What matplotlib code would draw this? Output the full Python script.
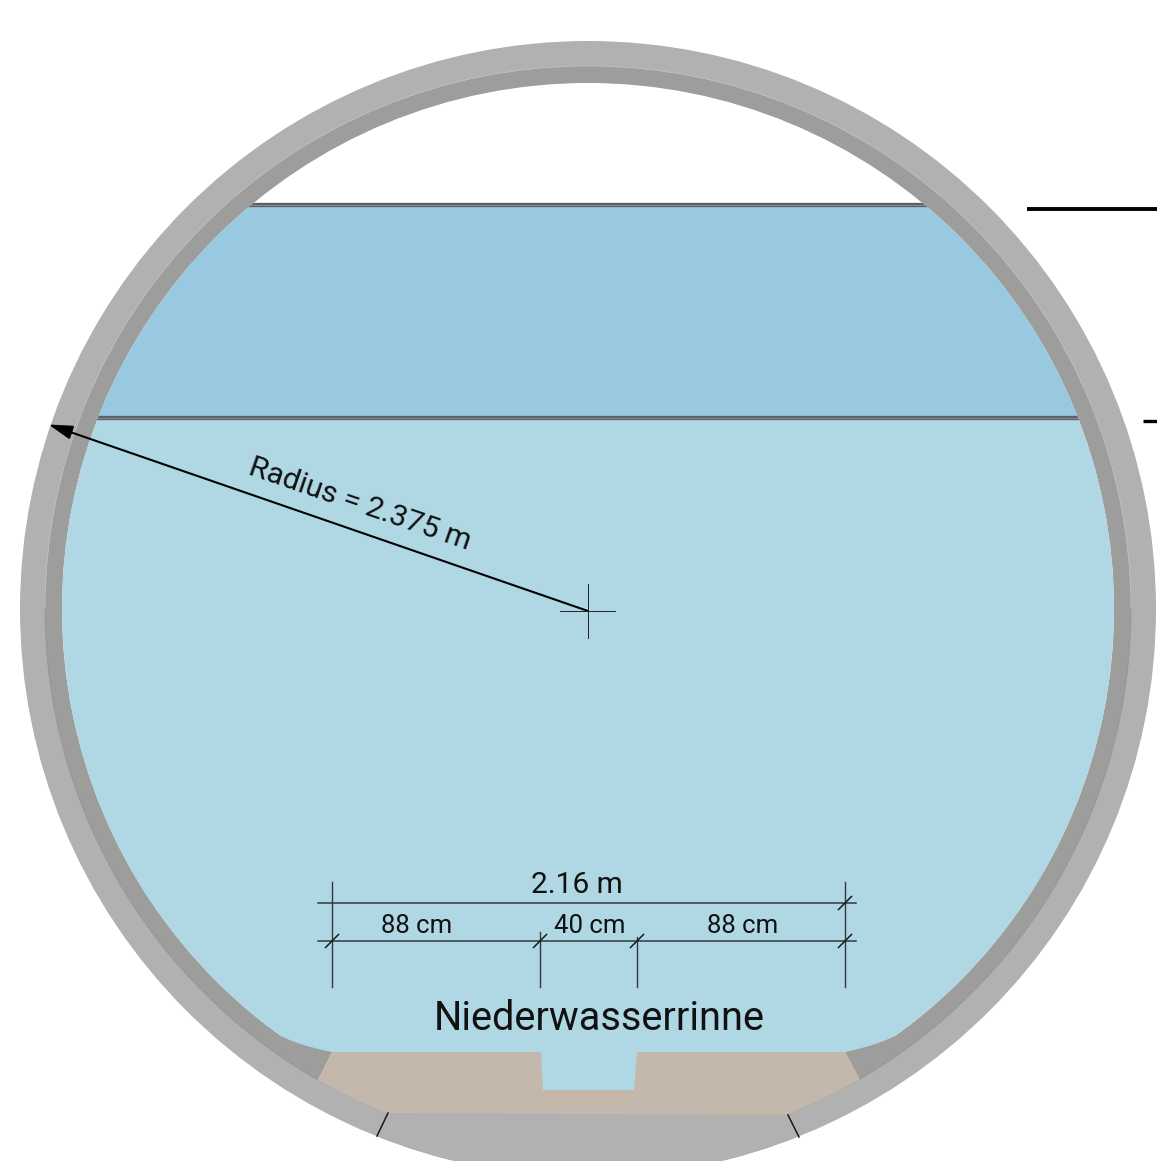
import matplotlib

matplotlib.use("Agg")
import matplotlib.pyplot as plt
from matplotlib.patches import Arc, Circle, Polygon, PathPatch, Rectangle
from matplotlib.path import Path

W, H = 1157, 1161
FONT = "Roboto"

# tunnel geometry, in reference pixels
CENTER = (588, 609)
R_OUTER = 568
R_MIDDLE = 543
R_INNER = 526
Y_UPPER_LEVEL = 205
Y_LOWER_LEVEL = 418.4

COLOR_OUTER = "#b1b1b1"
COLOR_MIDDLE = "#9d9d9b"
COLOR_WATER = "#b0d7e4"
COLOR_WATER_HIGH = "#99c9e0"
COLOR_BED = "#c4b7ab"

BED_OUTLINE = [
    (332, 1052), (541, 1052), (543, 1090), (634, 1090), (637, 1052), (845, 1052),
    (860, 1079), (860, 1125), (318, 1125), (318, 1079),
]
BASE_OUTLINE = [
    (377, 1136), (388, 1113), (788, 1115), (799, 1137), (799, 1161), (377, 1161),
]

DIM_Y_TOP = 903
DIM_Y_BOTTOM = 941
DIM_X = [332, 540, 637, 845]
DIM_X_START = [882, 932, 937, 882]
DIM_SLASHES = [(845, 903), (332, 941), (540, 941), (637, 941), (845, 941)]
DIM_LABELS = ["88 cm", "40 cm", "88 cm"]
DIM_LABEL_X = [417, 590, 743]

fig = plt.figure(figsize=(W / 100, H / 100), dpi=100)
ax = fig.add_axes([0, 0, 1, 1])
ax.set_xlim(0, W)
ax.set_ylim(H, 0)
ax.axis("off")

ax.add_patch(Circle(CENTER, R_OUTER, fc=COLOR_OUTER, ec="none", zorder=1))
ax.add_patch(Circle(CENTER, R_MIDDLE, fc=COLOR_MIDDLE, ec="none", zorder=2))
inner = Circle(CENTER, R_INNER, fc="white", ec="none", zorder=3)
ax.add_patch(inner)

# water, cut to the inner circle
water = Rectangle((0, Y_LOWER_LEVEL), W, H - Y_LOWER_LEVEL, fc=COLOR_WATER, ec="none", zorder=4)
ax.add_patch(water)
water.set_clip_path(inner)
water_high = Rectangle(
    (0, Y_UPPER_LEVEL), W, Y_LOWER_LEVEL - Y_UPPER_LEVEL, fc=COLOR_WATER_HIGH, ec="none", zorder=4
)
ax.add_patch(water_high)
water_high.set_clip_path(inner)

# water level lines
for y in (Y_UPPER_LEVEL, Y_LOWER_LEVEL):
    band, = ax.plot([0, W], [y, y], color="#5c5f66", lw=3.1, solid_capstyle="butt", zorder=5)
    core, = ax.plot([0, W], [y, y], color="#858b91", lw=0.8, solid_capstyle="butt", zorder=5)
    band.set_clip_path(inner)
    core.set_clip_path(inner)

mid_clip = Circle(CENTER, R_MIDDLE, transform=ax.transData)

# rounded benches either side of the bed
left_wedge = PathPatch(
    Path(
        [(273, 1032), (295, 1045), (332, 1052), (318, 1079), (273, 1085), (273, 1032)],
        [Path.MOVETO, Path.CURVE3, Path.CURVE3, Path.LINETO, Path.LINETO, Path.CLOSEPOLY],
    ),
    fc=COLOR_MIDDLE, ec="none", zorder=6,
)
right_wedge = PathPatch(
    Path(
        [(903, 1032), (880, 1045), (845, 1052), (860, 1079), (903, 1085), (903, 1032)],
        [Path.MOVETO, Path.CURVE3, Path.CURVE3, Path.LINETO, Path.LINETO, Path.CLOSEPOLY],
    ),
    fc=COLOR_MIDDLE, ec="none", zorder=6,
)
for wedge in (left_wedge, right_wedge):
    ax.add_patch(wedge)
    wedge.set_clip_path(mid_clip)

bed = Polygon(BED_OUTLINE, closed=True, fc=COLOR_BED, ec="none", zorder=6)
ax.add_patch(bed)
bed.set_clip_path(mid_clip)

base = Polygon(BASE_OUTLINE, closed=True, fc=COLOR_OUTER, ec="none", zorder=7)
ax.add_patch(base)
base.set_clip_path(Circle(CENTER, R_OUTER, transform=ax.transData))

# seam between the two rings: pale on top, darker below (y axis is inverted)
d = 2 * R_MIDDLE
for theta1, theta2, seam_color in [(180, 360, "#c6c6c6"), (0, 60, "#939393"), (120, 180, "#939393")]:
    ax.add_patch(
        Arc(CENTER, d, d, theta1=theta1, theta2=theta2, color=seam_color, lw=0.5, capstyle="butt", zorder=6.5)
    )

ax.plot([388, 377], [1113, 1136], color="#1a1a1a", lw=1.1, zorder=8)
ax.plot([788, 799], [1115, 1137], color="#1a1a1a", lw=1.1, zorder=8)

# level markers on the right
ax.plot([1027, W], [208.7, 208.7], color="black", lw=2.8, solid_capstyle="butt", zorder=8)
ax.plot([1143, W], [420.7, 420.7], color="black", lw=2.4, solid_capstyle="butt", zorder=8)

# radius arrow and centre cross
ax.annotate(
    "",
    xy=(48.5, 424.5),
    xytext=(588, 611),
    arrowprops=dict(
        arrowstyle="-|>,head_length=1.45,head_width=0.42",
        color="black",
        lw=1.5,
        shrinkA=0,
        shrinkB=0,
    ),
    zorder=9,
)
ax.plot([560, 615], [611, 611], color="#222222", lw=0.7, zorder=9)
ax.plot([587.6, 587.6], [584, 638], color="#222222", lw=0.7, zorder=9)
ax.text(
    360, 504, "Radius = 2.375 m",
    rotation=-19, rotation_mode="anchor", ha="center", va="center",
    fontsize=21.8, family=FONT, color="#111111", zorder=9,
)

# dimension lines
for y in (DIM_Y_TOP, DIM_Y_BOTTOM):
    ax.plot([318, 856], [y, y], color="#2f3a40", lw=1.1, zorder=9)
for x, y0 in zip(DIM_X, DIM_X_START):
    ax.plot([x, x], [y0, 987], color="#2f3a40", lw=1.0, zorder=9)
for x, y in DIM_SLASHES:
    ax.plot([x - 6.5, x + 6.5], [y + 6.5, y - 6.5], color="#1a1a1a", lw=1.1, zorder=9)

ax.text(577, 885, "2.16 m", ha="center", va="center", fontsize=21.5, family=FONT, color="#111111", zorder=9)
for x, label in zip(DIM_LABEL_X, DIM_LABELS):
    ax.text(x, 926, label, ha="center", va="center", fontsize=18.5, family=FONT, color="#111111", zorder=9)
ax.text(599, 1018, "Niederwasserrinne", ha="center", va="center", fontsize=28.6, family=FONT, color="#111111", zorder=9)

fig.savefig("out.png", dpi=100)
